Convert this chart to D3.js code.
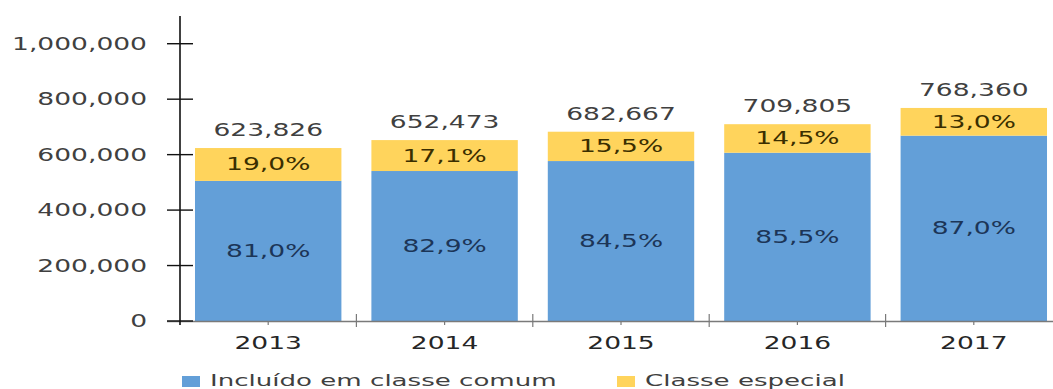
<!DOCTYPE html>
<html><head><meta charset="utf-8">
<script src="https://cdn.jsdelivr.net/npm/d3@7"></script>
<style>body{margin:0;background:#fff}svg{display:block}text{font-family:"DejaVu Sans",Verdana,sans-serif}</style>
</head><body><svg id="c" width="1053" height="389"></svg>
<script>
const years = ["2013","2014","2015","2016","2017"];
const totals = [623826, 652473, 682667, 709805, 768360];
const pctComum = [81.0, 82.9, 84.5, 85.5, 87.0];
const pctEspecial = [19.0, 17.1, 15.5, 14.5, 13.0];
const yTicks = [0, 200000, 400000, 600000, 800000, 1000000];
const seriesNames = ["Incluído em classe comum", "Classe especial"];
const colors = ["#639FD8", "#FFD45C"];

const SX = 1.56, FS = 17;
const svg = d3.select("#c");
const x = d3.scaleBand().domain(years).range([180, 1062]).paddingInner(0.17).paddingOuter(0.085);
const y = d3.scaleLinear().domain([0, 1100000]).range([321, 16]);
const fmt = d3.format(",");
const pfmt = v => v.toFixed(1).replace(".", ",") + "%";

function txt(g, tx, ty, s, anchor, fill, size, sx){
  return g.append("text").attr("transform", `translate(${tx},${ty}) scale(${sx||SX},1)`)
    .attr("text-anchor", anchor).attr("fill", fill).attr("font-size", size||FS).text(s);
}

const rows = years.map((yr,i)=>({yr, total: totals[i], comum: totals[i]*pctComum[i]/100, pc: pctComum[i], pe: pctEspecial[i]}));

// bars
const g = svg.append("g");
rows.forEach(d=>{
  const bx = x(d.yr), bw = x.bandwidth();
  g.append("rect").attr("x", bx).attr("width", bw).attr("y", y(d.comum)).attr("height", y(0)-y(d.comum)).attr("fill", colors[0]);
  g.append("rect").attr("x", bx).attr("width", bw).attr("y", y(d.total)).attr("height", y(d.comum)-y(d.total)).attr("fill", colors[1]);
  const cx = bx + bw/2;
  txt(g, cx, (y(0)+y(d.comum))/2 + 6, pfmt(d.pc), "middle", "#1C3557");
  txt(g, cx, (y(d.comum)+y(d.total))/2 + 6, pfmt(d.pe), "middle", "#3A2E00");
  txt(g, cx, y(d.total) - 12, fmt(d.total), "middle", "#404040");
});

// x axis
const ax = svg.append("g");
ax.append("line").attr("x1", 167).attr("x2", 1053).attr("y1", y(0)+0.5).attr("y2", y(0)+0.5).attr("stroke", "#7a7a7a").attr("stroke-width", 1.5);
years.forEach((yr,i)=>{
  const cx = x(yr) + x.bandwidth()/2;
  ax.append("line").attr("x1", cx).attr("x2", cx).attr("y1", y(0)).attr("y2", y(0)+4).attr("stroke", "#7a7a7a").attr("stroke-width", 1.2);
  if(i>0){
    const bx = x(yr) - x.step()*x.paddingInner()/2;
    ax.append("line").attr("x1", bx).attr("x2", bx).attr("y1", y(0)-7).attr("y2", y(0)+6).attr("stroke", "#7a7a7a").attr("stroke-width", 1.2);
  }
  txt(ax, cx, 349, yr, "middle", "#262626");
});

// y axis
const ay = svg.append("g");
ay.append("line").attr("x1", 180).attr("x2", 180).attr("y1", 16).attr("y2", y(0)+4).attr("stroke", "#111").attr("stroke-width", 1.6);
yTicks.forEach(t=>{
  ay.append("line").attr("x1", 167).attr("x2", 193).attr("y1", y(t)).attr("y2", y(t)).attr("stroke", "#111").attr("stroke-width", 1.4);
  txt(ay, 147, y(t)+6, fmt(t), "end", "#404040");
});

// legend
const lg = svg.append("g");
const lx = [182, 617];
seriesNames.forEach((s,i)=>{
  lg.append("rect").attr("x", lx[i]).attr("y", 376).attr("width", 18).attr("height", 11).attr("fill", colors[i]);
  txt(lg, lx[i]+28, 386, s, "start", "#404040", 16, 1.63);
});
</script></body></html>
